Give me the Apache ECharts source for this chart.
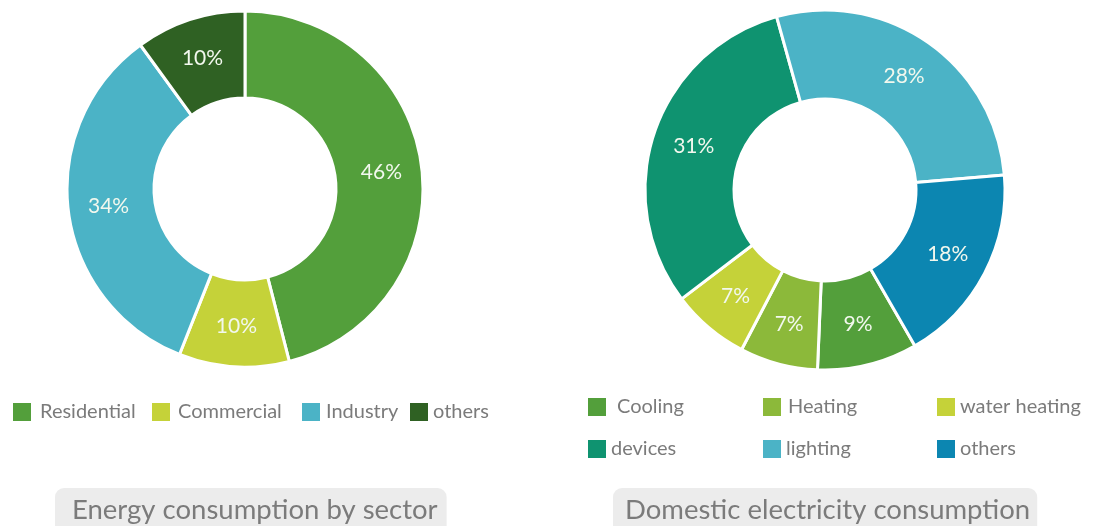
<!DOCTYPE html>
<html>
<head>
<meta charset="utf-8">
<script src="https://cdn.jsdelivr.net/npm/echarts@6/dist/echarts.min.js"></script>
<style>
  html, body { margin: 0; padding: 0; background: #ffffff; }
  #chart { width: 1097px; height: 526px; }
</style>
</head>
<body>
<div id="chart"></div>
<script>
// Energy consumption by sector (percent)
const sectorNames = ['Residential', 'Commercial', 'Industry', 'others'];
const sectorValues = [46, 10, 34, 10];
const sectorColors = ['#539f3b', '#c5d239', '#4bb3c6', '#2f6123'];

// Domestic electricity consumption (percent)
const domesticNames = ['Cooling', 'Heating', 'water heating', 'devices', 'lighting', 'others'];
const domesticValues = [9, 7, 7, 31, 28, 18];
const domesticColors = ['#539f3b', '#8cb93a', '#c5d239', '#0f9370', '#4bb3c6', '#0c86b1'];

const titles = ['Energy consumption by sector', 'Domestic electricity consumption'];

const FONT = 'Lato, "Open Sans", sans-serif';
const GREY = '#7b7b7b';

function toData(names, values, colors) {
  return names.map((n, i) => ({ name: n, value: values[i], itemStyle: { color: colors[i] } }));
}

// one legend entry, swatch at (x, y), text shifted right by `pad`
function legendItem(name, color, x, y, pad) {
  return {
    data: [{ name: name, itemStyle: { color: color, borderWidth: 0 } }],
    left: x - 5, top: y - 5,
    itemWidth: 18, itemHeight: 18,
    icon: 'rect',
    selectedMode: false,
    itemStyle: { borderWidth: 0 },
    textStyle: { fontFamily: FONT, fontSize: 20, color: GREY, padding: [0, 0, 0, pad] }
  };
}

const sectorLegendX = [13, 152, 302, 410];
const sectorLegendPad = [4, 3, 1, 0];
const domesticLegendX = [588, 763, 937, 588, 763, 937];
const domesticLegendY = [397, 397, 397, 439, 439, 439];
const domesticLegendPad = [6, 2, 0, 0, 0, 0];

const legends = sectorNames
  .map((n, i) => legendItem(n, sectorColors[i], sectorLegendX[i], 402, sectorLegendPad[i]))
  .concat(domesticNames.map((n, i) =>
    legendItem(n, domesticColors[i], domesticLegendX[i], domesticLegendY[i], domesticLegendPad[i])));

const labelStyle = {
  show: true,
  position: 'inside',
  formatter: '{c}%',
  color: '#f2f8ee',
  fontFamily: FONT,
  fontSize: 21
};

const chart = echarts.init(document.getElementById('chart'), null, { renderer: 'canvas' });

chart.setOption({
  backgroundColor: '#ffffff',
  animation: false,
  title: [
    {
      text: titles[0],
      left: 55, top: 488,
      backgroundColor: '#ececec',
      borderRadius: 9,
      padding: [8, 9, 14, 17],
      textStyle: { fontFamily: FONT, fontSize: 27.5, fontWeight: 'normal', color: GREY }
    },
    {
      text: titles[1],
      left: 613, top: 488,
      backgroundColor: '#ececec',
      borderRadius: 9,
      padding: [8, 7, 14, 12],
      textStyle: { fontFamily: FONT, fontSize: 27.5, fontWeight: 'normal', color: GREY }
    }
  ],
  legend: legends,
  series: [
    {
      type: 'pie',
      center: [245, 189],
      radius: [91, 178],
      startAngle: 90,
      clockwise: true,
      avoidLabelOverlap: false,
      itemStyle: { borderColor: '#ffffff', borderWidth: 3 },
      label: labelStyle,
      labelLine: { show: false },
      emphasis: { disabled: true },
      data: toData(sectorNames, sectorValues, sectorColors)
    },
    {
      type: 'pie',
      center: [825, 190],
      radius: [91, 180],
      startAngle: -60,
      clockwise: true,
      avoidLabelOverlap: false,
      itemStyle: { borderColor: '#ffffff', borderWidth: 3 },
      label: labelStyle,
      labelLine: { show: false },
      emphasis: { disabled: true },
      data: toData(domesticNames, domesticValues, domesticColors)
    }
  ]
});
</script>
</body>
</html>
